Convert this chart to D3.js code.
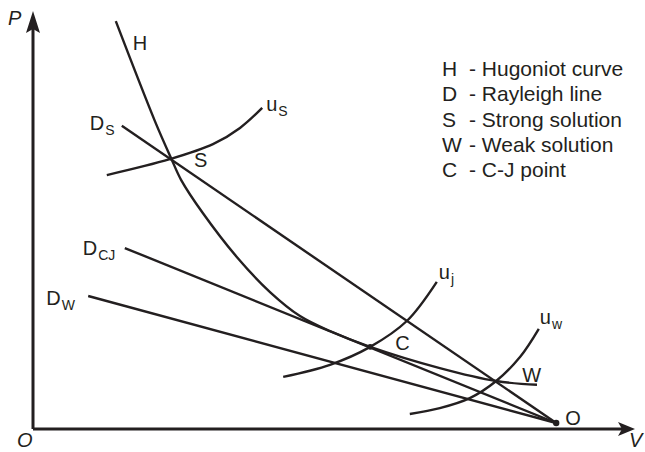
<!DOCTYPE html>
<html>
<head>
<meta charset="utf-8">
<script src="https://cdn.jsdelivr.net/npm/d3@7"></script>
<style>
  html, body { margin: 0; padding: 0; background: #fff; }
  svg { display: block; }
  text { font-family: "Liberation Sans", Arial, Helvetica, sans-serif; fill: #231f20; }
</style>
</head>
<body>
<svg id="chart" width="645" height="452"></svg>
<script>
// ---- data (V, P in arbitrary units, 0..100) ----
const origin = [87.2, 1.44];
const hugoniot = [[13.8,97.8],[20.3,73.9],[23.0,65.0],[24.7,59.7],[28.3,51.8],[34.0,41.2],[39.5,32.85],[44.5,27.1],[49.5,23.5],[56.2,19.7],[67.8,14.6],[77.2,11.5],[84.0,10.6]];
const rayleighS = [[14.8,72.7], origin];
const rayleighCJ = [[15.3,43.4], origin];
const rayleighW = [[9.2,31.9], origin];
const isoS = [[12.3,60.9],[22.8,64.7],[30.0,68.3],[34.5,72.2],[38.2,77.0]];
const isoJ = [[41.7,12.5],[49.5,15.4],[56.2,19.7],[62.3,25.9],[67.3,35.3]];
const isoW = [[62.8,3.6],[67.8,5.0],[72.8,7.4],[77.2,11.5],[81.2,17.3],[84.3,24.0]];
const pointS = [23.0, 65.0];
const pointC = [56.2, 19.7];
const pointW = [77.2, 11.5];
const legendKeys = ["H", "D", "S", "W", "C"];
const legendTexts = ["- Hugoniot curve", "- Rayleigh line", "- Strong solution", "- Weak solution", "- C-J point"];

// ---- drawing ----
const ink = "#231f20";
const svg = d3.select("#chart");
const x = d3.scaleLinear().domain([0, 100]).range([33, 633]);
const y = d3.scaleLinear().domain([0, 100]).range([429, 12]);

// axes (no ticks)
const gx = svg.append("g").attr("transform", `translate(0,${y(0)})`)
  .call(d3.axisBottom(x).tickValues([]).tickSizeOuter(0));
const gy = svg.append("g").attr("transform", `translate(${x(0)},0)`)
  .call(d3.axisLeft(y).tickValues([]).tickSizeOuter(0));
[gx, gy].forEach(g => g.select(".domain").attr("stroke", ink).attr("stroke-width", 3));
gx.select(".domain").attr("d", `M${x(0)},0H${x(100) - 8}`);
gy.select(".domain").attr("d", `M0,${y(0)}V${y(100) + 10}`);

// arrowheads
const tipX = x(100) + 2, ay = y(0);
svg.append("path").attr("fill", ink)
  .attr("d", `M${tipX},${ay} L${tipX - 17},${ay - 7} L${tipX - 13},${ay} L${tipX - 17},${ay + 7} Z`);
const tipY = y(100) - 1, ax = x(0);
svg.append("path").attr("fill", ink)
  .attr("d", `M${ax},${tipY} L${ax - 7},${tipY + 22} L${ax},${tipY + 18} L${ax + 7},${tipY + 22} Z`);

const curve = d3.line().x(d => x(d[0])).y(d => y(d[1])).curve(d3.curveCatmullRom.alpha(0.5));
const straight = d3.line().x(d => x(d[0])).y(d => y(d[1]));

[rayleighS, rayleighCJ, rayleighW].forEach(l =>
  svg.append("path").attr("d", straight(l)).attr("fill", "none").attr("stroke", ink).attr("stroke-width", 2.4));
[hugoniot, isoS, isoJ, isoW].forEach(c =>
  svg.append("path").attr("d", curve(c)).attr("fill", "none").attr("stroke", ink).attr("stroke-width", 2.4));

svg.append("circle").attr("cx", x(pointC[0])).attr("cy", y(pointC[1])).attr("r", 2.8).attr("fill", ink);
svg.append("circle").attr("cx", x(origin[0])).attr("cy", y(origin[1])).attr("r", 3.2).attr("fill", ink);

// labels
function label(pt, dx, dy, main, sub, italic) {
  const t = svg.append("text")
    .attr("x", x(pt[0]) + dx).attr("y", y(pt[1]) + dy)
    .attr("font-size", 20);
  if (italic) t.attr("font-style", "italic");
  t.append("tspan").text(main);
  if (sub) t.append("tspan").attr("font-size", 14).attr("dy", 5).attr("dx", 1).text(sub);
}
label(hugoniot[0], 17, 29, "H");
label(rayleighS[0], -32, 4, "D", "S");
label(rayleighCJ[0], -42, 7, "D", "CJ");
label(rayleighW[0], -42, 9, "D", "W");
label(pointS, 23, 9, "S");
label(pointC, 25, 3, "C");
label(pointW, 26, 1, "W");
label(origin, 9, 2, "O");
label(isoS[isoS.length - 1], 4, 3, "u", "S");
label(isoJ[isoJ.length - 1], 2, -3, "u", "j");
label(isoW[isoW.length - 1], 1, -5, "u", "w");
label([0, 100], -25, 13, "P", null, true);
label([0, 0], -16, 18, "O", null, true);
label([100, 0], -4, 18, "V", null, true);

// legend
const lg = svg.append("g");
legendKeys.forEach((k, i) => {
  lg.append("text").attr("x", 442).attr("y", 76 + i * 25.3).attr("font-size", 21).text(k);
  lg.append("text").attr("x", 469).attr("y", 76 + i * 25.3).attr("font-size", 21).text(legendTexts[i]);
});
</script>
</body>
</html>
